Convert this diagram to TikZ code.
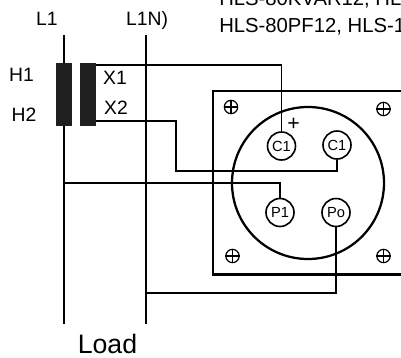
\documentclass[tikz,border=0pt]{standalone}
\usepackage{fontspec}
\setmainfont{Liberation Sans}
\tikzset{
  wire/.style={line width=1.2pt,black},
  boxline/.style={line width=1.7pt,black},
  coil/.style={fill=black!88!white,draw=none,minimum width=12pt,minimum height=47.25pt,inner sep=0pt},
  term/.style={circle,draw,line width=1.2pt,fill=white,minimum size=21pt,inner sep=0pt,font=\fontsize{11pt}{12pt}\selectfont},
  lab/.style={inner sep=0pt,anchor=base,font=\fontsize{14.5pt}{16pt}\selectfont},
  screwhole/.style={circle,draw,line width=0.9pt,minimum size=10pt,inner sep=0pt},
}
\begin{document}
\begin{tikzpicture}[x=0.75pt,y=-0.75pt]
\useasboundingbox (0,0) rectangle (401,358);
\clip (0,0) rectangle (401,358);
% free ends and bends
\coordinate (l1top) at (64,35);
\coordinate (l1bot) at (64,324);
\coordinate (ntop) at (146,35);
\coordinate (nbot) at (146,324);
\coordinate (edgeT) at (403,91);
\coordinate (cornerTL) at (213,91);
\coordinate (cornerBL) at (213,274.5);
\coordinate (edgeB) at (403,274.5);
% line wires
\draw[wire] (l1top) -- (l1bot);
\draw[wire] (ntop) -- (nbot);
% transformer
\node[coil] (prim) at (64,94.5) {};
\node[coil] (sec) at (88,94.5) {};
% housing
\draw[boxline] (edgeT) -- (cornerTL) -- (cornerBL) -- (edgeB);
\node[circle,draw,line width=1.7pt,minimum size=114pt,inner sep=0pt] (socket) at (308,183) {};
% terminals
\node[term] (c1a) at (281.5,146) {C1};
\node[term] (c1b) at (337,145) {C1};
\node[term] (p1) at (280,212.5) {P1};
\node[term] (po) at (336,212.5) {Po};
% connections
\coordinate (x1a) at (96,65);
\coordinate (x1b) at (281.5,65);
\coordinate (x2a) at (96,121);
\coordinate (x2b) at (176,121);
\coordinate (x2c) at (176,171);
\coordinate (x2d) at (337,171);
\coordinate (p1a) at (64,183);
\coordinate (p1b) at (280,183);
\coordinate (poa) at (146,293);
\coordinate (pob) at (336,293);
\draw[wire] (x1a) -- (x1b) -- (c1a.north);
\draw[wire] (x2a) -- (x2b) -- (x2c) -- (x2d) -- (c1b.south);
\draw[wire] (p1a) -- (p1b) -- (p1.north);
\draw[wire] (poa) -- (pob) -- (po.south);
% mounting holes
\foreach \n/\x/\y in {h1/231/107,h2/383.5/109,h3/232.5/256,h4/383.5/256}{
  \node[screwhole] (\n) at (\x,\y) {};
  \draw[line width=0.9pt] (\n.north) -- (\n.south) (\n.west) -- (\n.east);
}
% labels
\node[lab] (tl1) at (47,25) {L1};
\node[lab] (tn) at (147,25) {L1N)};
\node[lab] (th1) at (21.5,81) {H1};
\node[lab] (th2) at (24,121) {H2};
\node[lab] (tx1) at (115,84.5) {X1};
\node[lab] (tx2) at (116,114.5) {X2};
\node[lab,font=\fontsize{20pt}{22pt}\selectfont] (tload) at (107.5,353) {Load};
\node[inner sep=0pt,font=\fontsize{16pt}{18pt}\selectfont] (tplus) at (293.7,124.5) {+};
\node[lab,anchor=base west,font=\fontsize{15.2pt}{18pt}\selectfont] (tt1) at (219,5) {HLS-80KVAR12, HLS-110KVAR12,};
\node[lab,anchor=base west,font=\fontsize{15.2pt}{18pt}\selectfont] (tt2) at (219,32) {HLS-80PF12, HLS-110PF12,};
\end{tikzpicture}
\end{document}
